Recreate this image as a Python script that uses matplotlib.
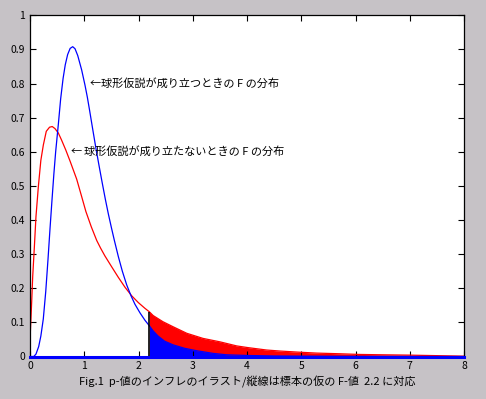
#!/usr/bin/env python3
"""Fig.1 p-value inflation illustration: two F densities, tail beyond F=2.2 shaded."""
import matplotlib
matplotlib.use("Agg")
import matplotlib.pyplot as plt
import numpy as np

plt.rcParams["font.family"] = ["Noto Sans CJK JP", "DejaVu Sans"]

# density when sphericity holds (blue)
x_blue = [0, 0.07, 0.11, 0.16, 0.20, 0.245, 0.29, 0.332, 0.369, 0.406, 0.44,
          0.473, 0.522, 0.565, 0.61, 0.65, 0.694, 0.74, 0.787, 0.83, 0.88,
          0.952, 1.014, 1.057, 1.10, 1.155, 1.21, 1.272, 1.33, 1.39, 1.444,
          1.50, 1.554, 1.628, 1.702, 1.782, 1.862, 1.935, 2.027, 2.12, 2.2,
          2.27, 2.36, 2.48, 2.64, 2.85, 3.07, 3.38, 3.62, 4.0, 4.5, 5.0, 6.0,
          7.0, 8.0]
y_blue = [0, 0, 0.007, 0.029, 0.06, 0.11, 0.19, 0.285, 0.375, 0.46, 0.535,
          0.60, 0.68, 0.755, 0.815, 0.855, 0.885, 0.903, 0.908, 0.902, 0.882,
          0.84, 0.795, 0.76, 0.72, 0.667, 0.615, 0.56, 0.51, 0.46, 0.418,
          0.378, 0.341, 0.293, 0.25, 0.21, 0.178, 0.153, 0.128, 0.106, 0.09,
          0.075, 0.06, 0.045, 0.034, 0.024, 0.017, 0.009, 0.005, 0.003, 0.0015,
          0.001, 0.0003, 0.0001, 0]

# density when sphericity does not hold (red)
x_red = [0, 0.006, 0.02, 0.031, 0.05, 0.08, 0.11, 0.154, 0.2, 0.246, 0.3,
         0.36, 0.41, 0.46, 0.522, 0.58, 0.66, 0.74, 0.86, 0.95, 1.03, 1.13,
         1.23, 1.30, 1.38, 1.505, 1.628, 1.751, 1.874, 1.997, 2.12, 2.2, 2.27,
         2.45, 2.64, 2.89, 3.19, 3.5, 3.81, 4.02, 4.36, 4.61, 4.92, 5.28, 5.71,
         6.08, 6.5, 7.0, 7.33, 8.0]
y_red = [0, 0.07, 0.12, 0.16, 0.235, 0.32, 0.41, 0.498, 0.575, 0.62, 0.66,
         0.672, 0.674, 0.668, 0.655, 0.635, 0.605, 0.572, 0.52, 0.47, 0.425,
         0.38, 0.34, 0.318, 0.295, 0.263, 0.232, 0.203, 0.178, 0.158, 0.141,
         0.131, 0.12, 0.102, 0.087, 0.068, 0.053, 0.043, 0.031, 0.026, 0.019,
         0.016, 0.013, 0.010, 0.008, 0.006, 0.005, 0.004, 0.003, 0.001]

f_obs = 2.2
xticks = [0, 1, 2, 3, 4, 5, 6, 7, 8]
yticks = [0, 0.1, 0.2, 0.3, 0.4, 0.5, 0.6, 0.7, 0.8, 0.9, 1]
ytick_labels = ["0", "0.1", "0.2", "0.3", "0.4", "0.5", "0.6", "0.7", "0.8", "0.9", "1"]
label_ok = "球形仮説が成り立つときの F の分布"
label_ng = "球形仮説が成り立たないときの F の分布"
xlabel = "Fig.1  p-値のインフレのイラスト/縦線は標本の仮の F-値  2.2 に対応"

xb, yb = np.array(x_blue), np.array(y_blue)
xr, yr = np.array(x_red), np.array(y_red)

fig = plt.figure(figsize=(4.86, 3.99), dpi=100, facecolor="#c6c2c6")
ax = fig.add_axes([30 / 486, 42.5 / 399, 434 / 486, 341.2 / 399])
ax.set_facecolor("white")

ax.plot(xr, yr, color="#ff0000", lw=0.9)
ax.plot(xb, yb, color="#0000ff", lw=0.9)
ax.fill_between(xr, 0, yr, where=xr >= f_obs, color="#ff0000", lw=0)
ax.fill_between(xb, 0, yb, where=xb >= f_obs, color="#0000ff", lw=0)
ax.vlines(f_obs, 0, yr[xr == f_obs][0], color="black", lw=1.2)
ax.axhline(0, color="#0000ff", lw=2.2, zorder=5, clip_on=False)

# annotations with arrow glyphs
ax.text(1.106, 0.8, "←", fontsize=8, ha="left", va="center")
ax.text(1.30, 0.8, label_ok, fontsize=8, ha="left", va="center")
ax.text(0.756, 0.6, "←", fontsize=8, ha="left", va="center")
ax.text(0.99, 0.6, label_ng, fontsize=8, ha="left", va="center")

ax.set_xlim(0, 8)
ax.set_ylim(0, 1)
ax.set_xticks(xticks)
ax.set_yticks(yticks)
ax.set_yticklabels(ytick_labels)
ax.tick_params(direction="in", length=4, width=0.8, labelsize=7.5,
               top=True, right=True, pad=3.5)
for s in ax.spines.values():
    s.set_linewidth(0.9)
ax.set_xlabel(xlabel, fontsize=8, labelpad=3)

fig.savefig("out.png", dpi=100, facecolor=fig.get_facecolor())
